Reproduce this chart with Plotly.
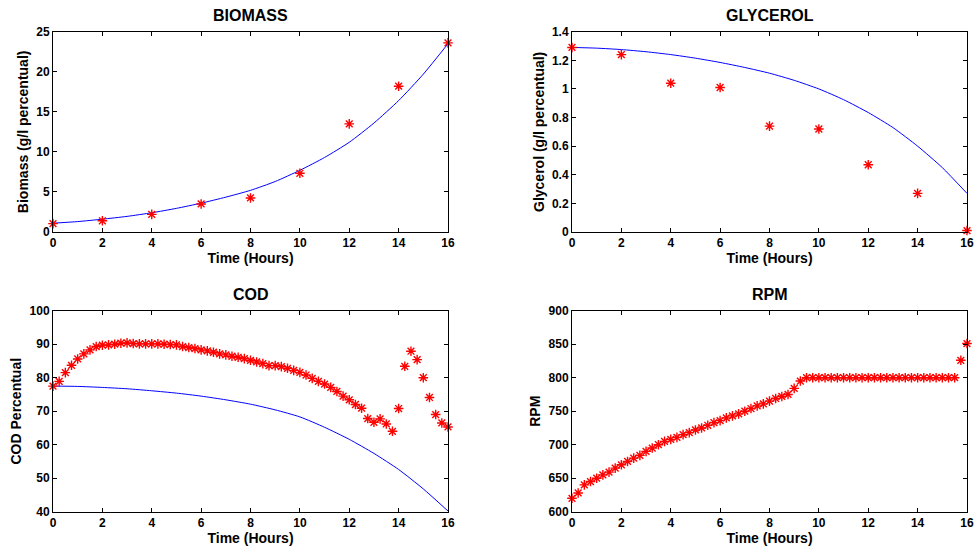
import plotly.graph_objects as go

# ---------------- data ----------------
bio_t = [0, 2, 4, 6, 8, 10, 12, 14, 16]
bio_obs = [1.04, 1.4, 2.2, 3.5, 4.25, 7.33, 13.5, 18.2, 23.6]
bio_fit_t = list(range(0, 17))
bio_fit = [1.1, 1.3, 1.6, 1.95, 2.4, 2.95, 3.6, 4.35, 5.2, 6.3, 7.7, 9.3, 11.2, 13.6, 16.4, 19.7, 23.5]

gly_t = [0, 2, 4, 6, 8, 10, 12, 14, 16]
gly_obs = [1.29, 1.24, 1.04, 1.01, 0.74, 0.72, 0.47, 0.27, 0.01]
gly_fit_t = list(range(0, 17))
gly_fit = [1.29, 1.285, 1.275, 1.26, 1.24, 1.215, 1.185, 1.15, 1.11, 1.06, 1.0,
           0.925, 0.835, 0.73, 0.60, 0.45, 0.27]

cod_t = [i * 0.25 for i in range(65)]
cod_obs = [77.5, 78.9, 81.5, 83.7, 85.6, 87.1, 88.3, 89.3, 89.7, 89.8, 90.0, 90.3, 90.4,
           90.2, 90.1, 90.1, 90.1, 90.1, 90.0, 89.9, 89.8, 89.3, 89.0, 88.7, 88.3, 88.0,
           87.6, 87.1, 86.8, 86.4, 86.1, 85.7, 85.2, 84.7,
           84.2, 83.6, 83.6, 83.3, 82.8, 82.2, 81.6, 80.8, 79.8, 78.9, 78.1, 77.1, 75.9,
           74.5, 73.4, 72.0, 70.9, 67.8, 66.7, 67.7, 66.2, 64.0, 70.8, 83.4, 87.9, 85.4,
           80.0, 74.1, 69.0, 66.5, 65.3]
cod_fit_t = list(range(0, 17))
cod_fit = [77.5, 77.4, 77.1, 76.7, 76.1, 75.4, 74.5, 73.4, 72.1, 70.4, 68.3, 65.2,
           61.6, 57.4, 52.6, 46.8, 40.2]

rpm_t = [i * 0.25 for i in range(65)]
rpm_obs = [620, 628, 640, 645, 650, 655, 659, 665, 670, 675, 680, 684, 690, 695, 700,
           705, 708, 711, 715, 718, 722, 725, 729, 733, 736, 740, 743, 746, 750, 754,
           758, 761, 765, 769, 772, 775, 784, 795] + [800] * 25 + [826, 851]

x_ticks = [0, 2, 4, 6, 8, 10, 12, 14, 16]
titles = ["BIOMASS", "GLYCEROL", "COD", "RPM"]
y_titles = ["Biomass (g/l percentual)", "Glycerol (g/l percentual)", "COD Percentual", "RPM"]
x_title = "Time (Hours)"

# ---------------- figure ----------------
W, H = 974, 550
xdom = [[53 / W, 448 / W], [572 / W, 967 / W]]
ydom_top = [1 - 232 / H, 1 - 31.7 / H]
ydom_bot = [1 - 511.7 / H, 1 - 310.7 / H]

RED = "rgb(255,0,0)"
BLUE = "rgb(0,0,255)"

fig = go.Figure()

def add_fit(t, y, xa, ya):
    fig.add_trace(go.Scatter(x=t, y=y, mode="lines", xaxis=xa, yaxis=ya,
                             line=dict(color=BLUE, width=1, shape="spline", smoothing=0.6),
                             showlegend=False, hoverinfo="skip"))

def add_obs(t, y, xa, ya):
    fig.add_trace(go.Scatter(x=t, y=y, mode="markers", xaxis=xa, yaxis=ya,
                             marker=dict(symbol="asterisk-open", size=8, color=RED,
                                         line=dict(color=RED, width=1.4)),
                             showlegend=False, cliponaxis=False))

add_fit(bio_fit_t, bio_fit, "x", "y")
add_obs(bio_t, bio_obs, "x", "y")
add_fit(gly_fit_t, gly_fit, "x2", "y2")
add_obs(gly_t, gly_obs, "x2", "y2")
add_fit(cod_fit_t, cod_fit, "x3", "y3")
add_obs(cod_t, cod_obs, "x3", "y3")
add_obs(rpm_t, rpm_obs, "x4", "y4")

FAM = "Liberation Sans, Arial, sans-serif"
tickfont = dict(family=FAM, size=12, color="black", weight="bold")
labfont = dict(family=FAM, size=14, color="black", weight="bold")

def xaxis(dom, anchor):
    return dict(domain=dom, anchor=anchor, range=[0, 16], tickvals=x_ticks,
                ticks="inside", ticklen=4, tickwidth=1, tickcolor="black",
                showline=True, linecolor="black", linewidth=1, mirror="ticks",
                showgrid=False, zeroline=False, tickfont=tickfont, automargin=False,
                title=dict(text=x_title, font=labfont, standoff=0))

def yaxis(dom, anchor, rng, dtick, title):
    return dict(domain=dom, anchor=anchor, range=rng, dtick=dtick, tick0=rng[0],
                ticks="inside", ticklen=4, tickwidth=1, tickcolor="black",
                showline=True, linecolor="black", linewidth=1, mirror="ticks",
                showgrid=False, zeroline=False, tickfont=tickfont, automargin=False,
                title=dict(text=title, font=labfont, standoff=4))

fig.update_layout(
    width=W, height=H, autosize=False,
    margin=dict(l=0, r=0, t=0, b=0, pad=0),
    paper_bgcolor="white", plot_bgcolor="white",
    xaxis=xaxis(xdom[0], "y"),
    yaxis=yaxis(ydom_top, "x", [0, 25], 5, y_titles[0]),
    xaxis2=xaxis(xdom[1], "y2"),
    yaxis2=yaxis(ydom_top, "x2", [0, 1.4], 0.2, y_titles[1]),
    xaxis3=xaxis(xdom[0], "y3"),
    yaxis3=yaxis(ydom_bot, "x3", [40, 100], 10, y_titles[2]),
    xaxis4=xaxis(xdom[1], "y4"),
    yaxis4=yaxis(ydom_bot, "x4", [600, 900], 50, y_titles[3]),
)

titlefont = dict(family=FAM, size=16, color="black", weight="bold")
for i, (xd, yd) in enumerate([(xdom[0], ydom_top), (xdom[1], ydom_top),
                              (xdom[0], ydom_bot), (xdom[1], ydom_bot)]):
    fig.add_annotation(text=titles[i], x=(xd[0] + xd[1]) / 2, y=yd[1], xref="paper", yref="paper",
                       xanchor="center", yanchor="bottom", yshift=6, showarrow=False, font=titlefont)

fig.write_html("out.html", config={"displayModeBar": False},
               post_script="document.body.style.margin='0';document.body.style.overflow='hidden';")
